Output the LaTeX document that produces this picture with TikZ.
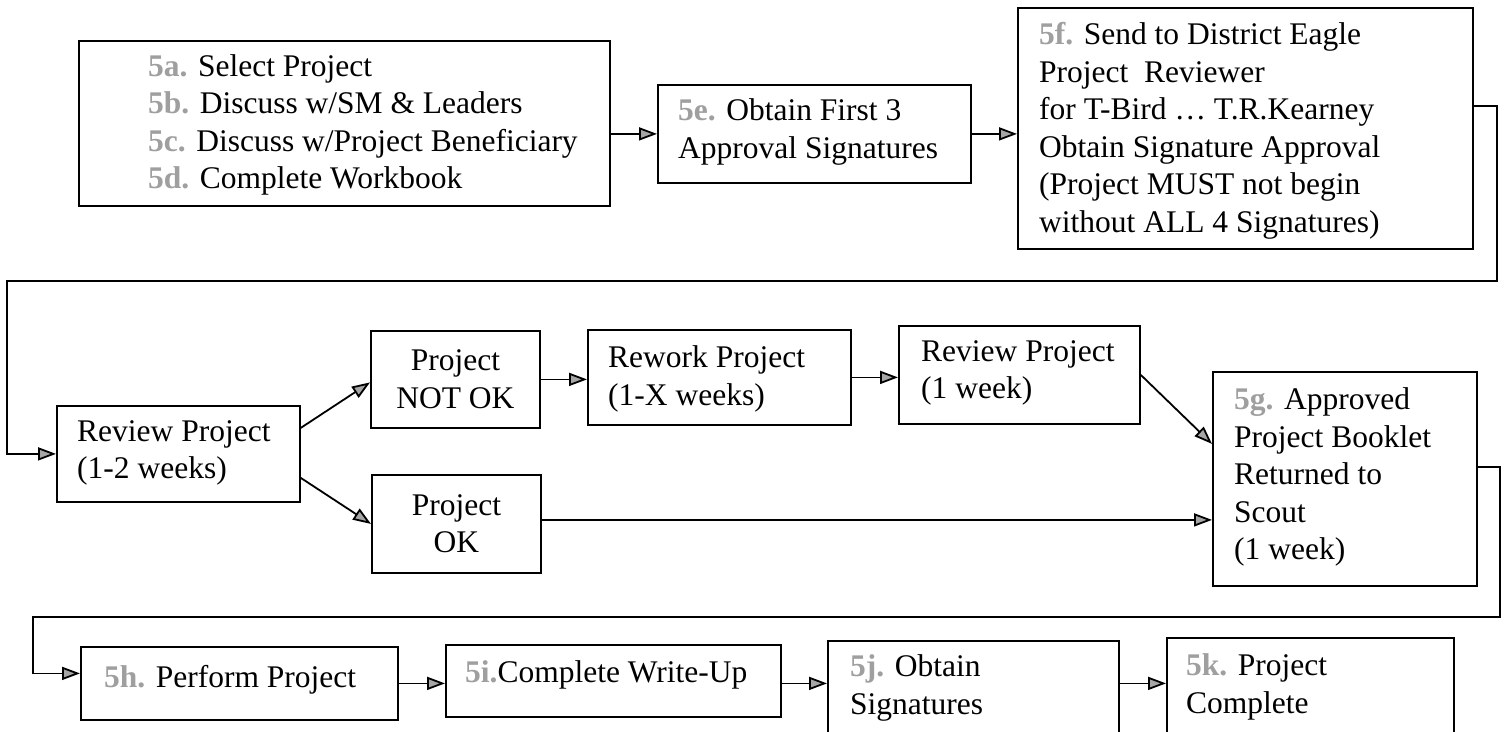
\documentclass[tikz,border=0pt]{standalone}
\usepackage{fontspec}
\setmainfont{Liberation Serif}
\usetikzlibrary{arrows.meta}
\newcommand\pre[1]{{\color{gray!75}\bfseries #1}}
\begin{document}
\begin{tikzpicture}[x=1pt, y=-1pt,
  box/.style={draw, line width=1.8pt, inner sep=0pt, anchor=north west},
  txt/.style={anchor=west, align=left, inner sep=0pt, font=\fontsize{31.5}{37.5}\selectfont},
  ctxt/.style={anchor=center, align=center, inner sep=0pt, font=\fontsize{31.5}{37.5}\selectfont},
  arr/.style={line width=1.8pt, -{Triangle[length=18pt,width=13pt,fill=gray!70]}},
  link/.style={line width=1.8pt}]
\clip (0,0) rectangle (1507,731);
\fill[white] (0,0) rectangle (1507,731);
% boxes
\node[box, minimum width=531pt, minimum height=165pt] (A) at (78,40) {};
\node[box, minimum width=313pt, minimum height=98pt] (E) at (657,84) {};
\node[box, minimum width=455pt, minimum height=241pt] (F) at (1017,7) {};
\node[box, minimum width=243pt, minimum height=96pt] (R1) at (56,405) {};
\node[box, minimum width=169pt, minimum height=97pt] (NOK) at (370,330) {};
\node[box, minimum width=263pt, minimum height=95pt] (RW) at (587,329) {};
\node[box, minimum width=241pt, minimum height=98pt] (RV) at (898,325) {};
\node[box, minimum width=264pt, minimum height=214pt] (G) at (1212,371) {};
\node[box, minimum width=169pt, minimum height=98pt] (OK) at (371,474) {};
\node[box, minimum width=317pt, minimum height=73pt] (H) at (80,646) {};
\node[box, minimum width=335pt, minimum height=72pt] (I) at (445,644) {};
\node[box, minimum width=291pt, minimum height=110pt] (J) at (827,640) {};
\node[box, minimum width=287pt, minimum height=113pt] (K) at (1166,637) {};
% texts
\node[txt] (tA) at (148,125) {\pre{5a.} Select Project\\ \pre{5b.} Discuss w/SM \& Leaders\\ \pre{5c.} Discuss w/Project Beneficiary\\ \pre{5d.} Complete Workbook};
\node[txt] (tE) at (678,132) {\pre{5e.} Obtain First 3\\Approval Signatures};
\node[txt] (tF) at (1039,131) {\pre{5f.} Send to District Eagle\\Project~ Reviewer\\for T-Bird … T.R.Kearney\\Obtain Signature Approval\\(Project MUST not begin\\without ALL 4 Signatures)};
\node[txt] (tR1) at (77,453) {Review Project\\(1-2 weeks)};
\node[ctxt] (tNOK) at (NOK.center) {Project\\NOT OK};
\node[txt] (tRW) at (608,379) {Rework Project\\(1-X weeks)};
\node[txt] (tRV) at (921,373) {Review Project\\(1 week)};
\node[txt] (tG) at (1234,477) {\pre{5g.} Approved\\Project Booklet\\Returned to\\Scout\\(1 week)};
\node[ctxt] (tOK) at (OK.center) {Project\\OK};
\node[txt] (tH) at (104,680) {\pre{5h.} Perform Project};
\node[txt] (tI) at (465,675) {\pre{5i.}Complete Write-Up};
\node[txt] (tJ) at (850,688) {\pre{5j.} Obtain\\Signatures};
\node[txt] (tK) at (1186,687) {\pre{5k.} Project\\Complete};
% bend points
\coordinate (b1) at (1497,281);
\coordinate (b2) at (7,281);
\coordinate (b3) at (1500,617);
\coordinate (b4) at (33,617);
% connectors
\draw[arr] (A.east |- E.west) -- (E.west);
\draw[arr] (E.east) -- (E.east -| F.west);
\draw[arr] (F.east |- 0,106) -| (b1) -- (b2) |- (R1.west);
\draw[arr] ([yshift=26pt]R1.east) -- ([yshift=-3pt]NOK.west);
\draw[arr] ([yshift=-24pt]R1.east) -- (OK.west);
\draw[arr] (NOK.east) -- (NOK.east -| RW.west);
\draw[arr] (RW.east) -- (RW.east -| RV.west);
\draw[arr] (RV.east) -- ([yshift=35pt]G.west);
\draw[arr] ([yshift=4pt]OK.east) -- ([yshift=4pt]OK.east -| G.west);
\draw[arr] (G.east |- 0,467) -| (b3) -- (b4) |- ([yshift=10pt]H.west);
\draw[arr] (H.east) -- (H.east -| I.west);
\draw[arr] (H.east -| I.east) -- (H.east -| J.west);
\draw[arr] (H.east -| J.east) -- (H.east -| K.west);
\end{tikzpicture}
\end{document}
